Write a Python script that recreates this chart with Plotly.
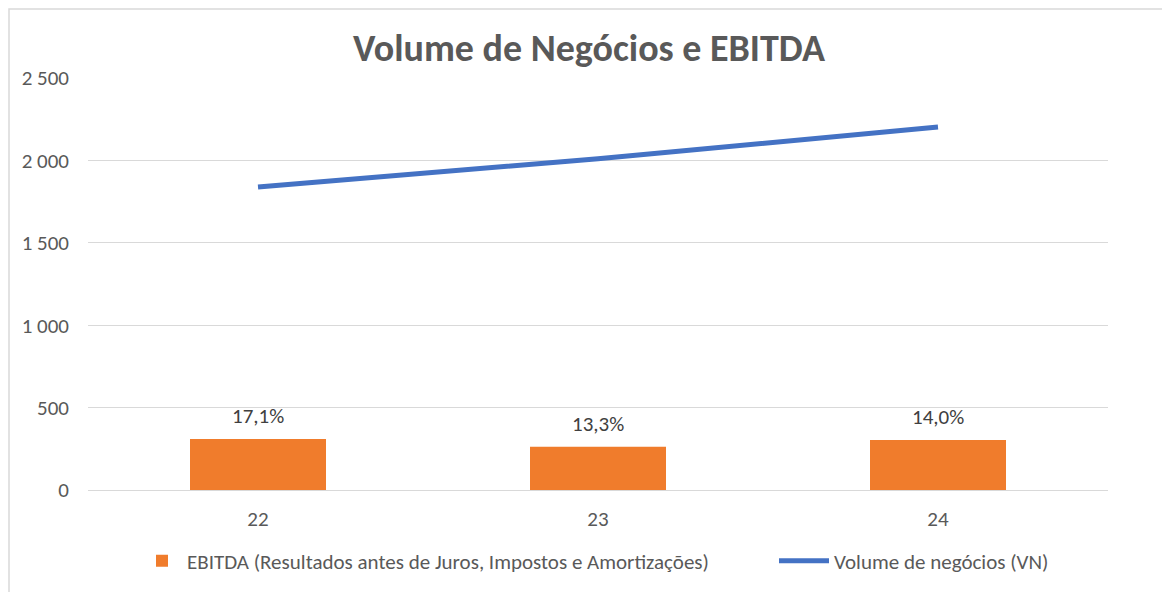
import plotly.graph_objects as go

years = ["22", "23", "24"]
ebitda = [310, 262, 303]
ebitda_margin = ["17,1%", "13,3%", "14,0%"]
volume = [1838, 2010, 2203]
ytick_vals = [0, 500, 1000, 1500, 2000, 2500]
ytick_text = ["0", "500", "1 000", "1 500", "2 000", "2 500"]

FONT = "Carlito, Calibri, Lato, sans-serif"
GREY = "#595959"

# page body has an 8px margin; figure is sized/offset to compensate
W, H = 1162, 584
L, R, T, B = 80, 62, 70, 102
PW, PH = W - L - R, H - T - B

fig = go.Figure()
fig.add_trace(go.Bar(
    x=years, y=ebitda, name="EBITDA (Resultados antes de Juros, Impostos e Amortizações)",
    marker=dict(color="#F07C2C", line=dict(width=0)), width=0.4, legend="legend",
))
fig.add_trace(go.Scatter(
    x=years, y=volume, name="Volume de negócios (VN)", mode="lines",
    line=dict(color="#4472C4", width=5), legend="legend2",
))
for i, (y, t) in enumerate(zip(ebitda, ebitda_margin)):
    fig.add_annotation(x=i, y=y, text=t, showarrow=False, yanchor="bottom", yshift=8,
                       font=dict(family=FONT, size=21, color="#404040"))

leg_y = (H - B - 553) / PH
fig.update_layout(
    width=W, height=H,
    margin=dict(l=L, r=R, t=T, b=B, autoexpand=False),
    paper_bgcolor="white", plot_bgcolor="white",
    font=dict(family=FONT, size=21, color=GREY),
    title=dict(text="<b>Volume de Negócios e EBITDA</b>", x=(598 - 8 - L) / PW, xanchor="center",
               y=1 - 40 / H, yanchor="middle",
               font=dict(family=FONT, size=38, color=GREY)),
    showlegend=True,
    legend=dict(orientation="h", x=(129 - L) / PW, xanchor="left", y=leg_y, yanchor="middle",
                font=dict(family=FONT, size=21, color=GREY), itemwidth=40),
    legend2=dict(orientation="h", x=(766 - L) / PW, xanchor="left", y=leg_y, yanchor="middle",
                 font=dict(family=FONT, size=21, color=GREY), itemwidth=50),
    bargap=0.6,
    shapes=[dict(type="rect", xref="paper", yref="paper",
                 x0=(1 - L) / PW, x1=1.2, y0=-0.5, y1=1 + (T - 1) / PH,
                 line=dict(color="#D9D9D9", width=1.5), fillcolor="rgba(0,0,0,0)", layer="below")],
)
fig.update_xaxes(type="category", range=[-0.5, len(years) - 0.5], showgrid=False, showline=False,
                 ticks="", tickfont=dict(size=21, color=GREY), ticklabelstandoff=14, automargin=False)
fig.update_yaxes(range=[0, 2500], tickvals=ytick_vals, ticktext=ytick_text,
                 showgrid=True, gridcolor="#D9D9D9", gridwidth=1,
                 zeroline=True, zerolinecolor="#D9D9D9", zerolinewidth=1,
                 showline=False, ticks="", tickfont=dict(size=21, color=GREY),
                 ticklabelstandoff=18, automargin=False)

fig.write_html("out.html")
